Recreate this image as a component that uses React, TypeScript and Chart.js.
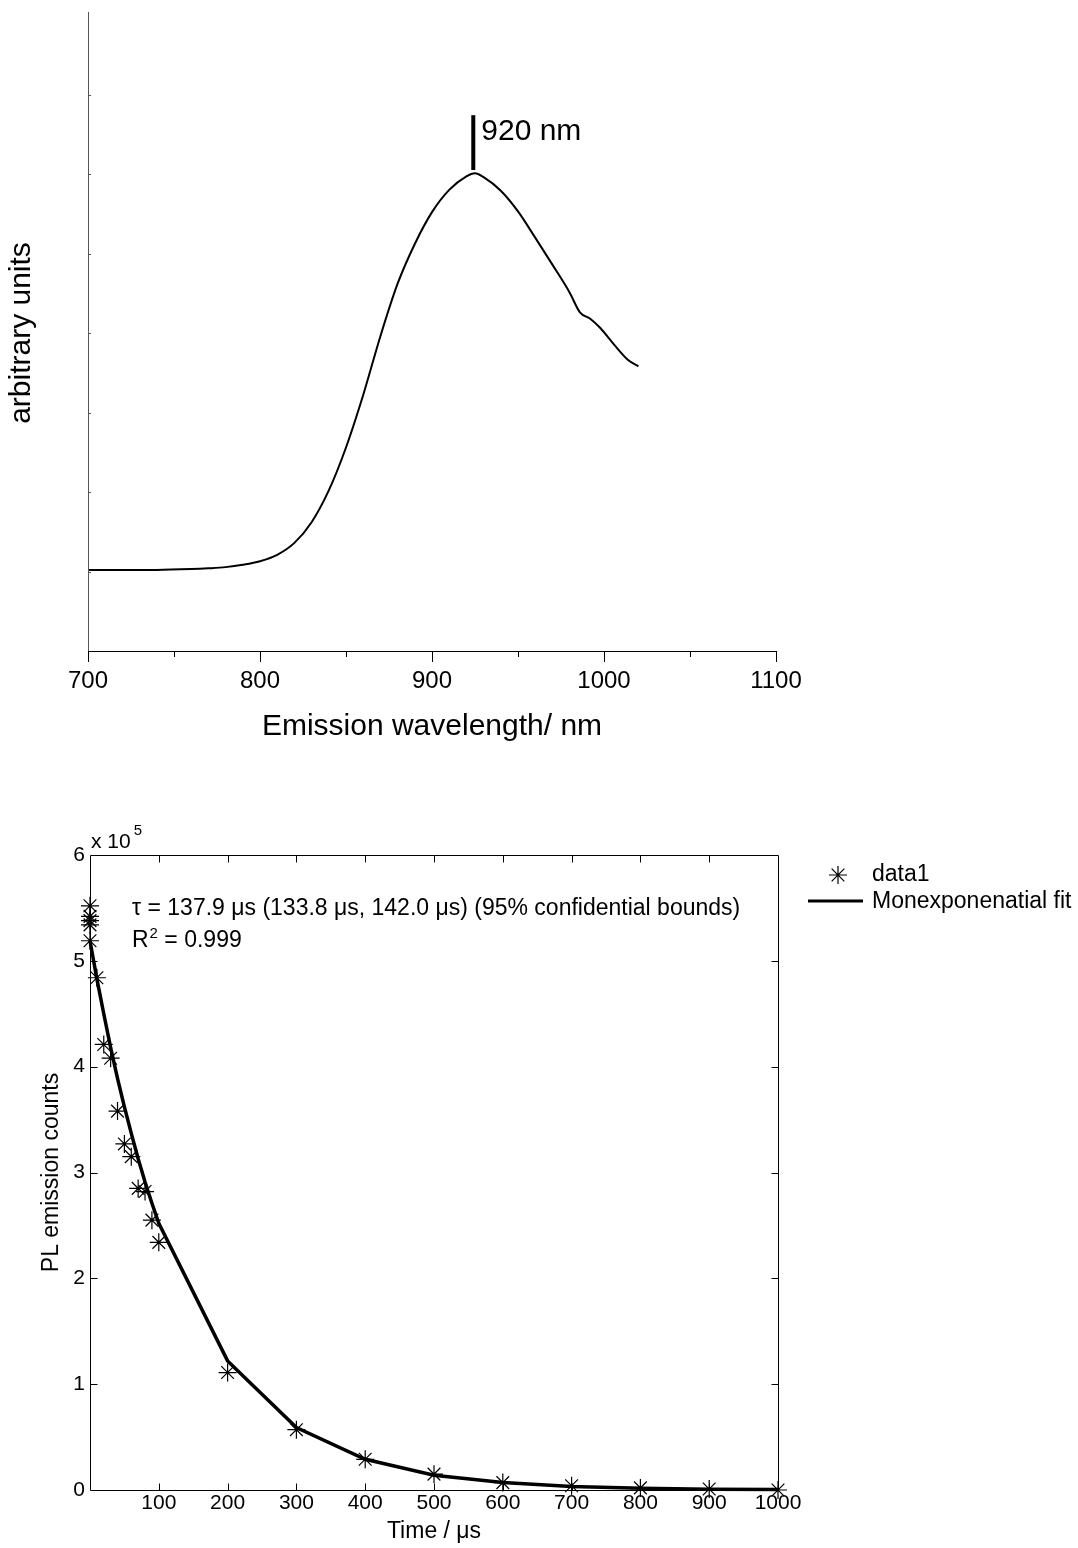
import React, { useEffect, useRef } from 'react';
import { Chart, registerables } from 'chart.js';

Chart.register(...registerables);

const FONT = '"Liberation Sans", Arial, Helvetica, sans-serif';

// ---------- Top chart: emission spectrum ----------
const WAVELENGTH_NM = [700, 720, 740, 760, 770, 780, 790, 800, 810, 820, 830, 840, 850, 860, 870, 880, 890, 900, 910, 920, 925, 930, 940, 950, 960, 970, 980, 986, 992, 998, 1006, 1014, 1020];
const INTENSITY_AU = [1.02, 1.02, 1.02, 1.03, 1.04, 1.055, 1.085, 1.13, 1.21, 1.36, 1.62, 2.02, 2.56, 3.22, 3.96, 4.62, 5.12, 5.52, 5.8, 5.97, 6.01, 5.96, 5.79, 5.53, 5.2, 4.86, 4.51, 4.26, 4.18, 4.06, 3.85, 3.66, 3.58];
const WAVELENGTH_LABELS = [700, 800, 900, 1000, 1100];
const PEAK_NM = 924;
const PEAK_BAR = [6.05, 6.74];
const PEAK_LABEL = '920 nm';

// ---------- Bottom chart: PL decay ----------
const TIME_US = [0, 0, 0, 0, 0, 10, 20, 30, 40, 50, 60, 70, 80, 90, 100, 200, 300, 400, 500, 600, 700, 800, 900, 1000];
const PL_COUNTS = [552000, 542000, 538000, 534000, 519000, 484000, 421000, 408000, 358000, 327000, 315000, 285000, 282000, 255000, 234000, 111000, 57000, 29000, 15000, 7000, 4000, 2000, 1000, 0];
const FIT_TIME_US = [0, 10, 20, 30, 40, 50, 60, 70, 80, 90, 100, 200, 300, 400, 500, 600, 700, 800, 900, 1000];
const FIT_COUNTS = [519000, 483000, 450000, 418000, 389000, 362000, 337000, 313000, 291000, 271000, 252000, 122000, 59000, 29000, 14000, 7000, 3300, 1600, 800, 400];
const TIME_LABELS = [100, 200, 300, 400, 500, 600, 700, 800, 900, 1000];
const COUNT_LABELS = [0, 1, 2, 3, 4, 5, 6];
const SERIES_NAMES = ['data1', 'Monexponenatial fit'];
const FIT_TEXT = 'τ = 137.9 μs (133.8 μs, 142.0 μs) (95% confidential bounds)';
const R2_VALUE = '0.999';

const topDecor = {
  id: 'topDecor',
  afterDraw(chart: any) {
    const { ctx, chartArea: a, scales } = chart;
    const xs = scales.x;
    const ys = scales.y;
    ctx.save();
    ctx.lineWidth = 1;
    ctx.strokeStyle = '#555';
    ctx.beginPath();
    ctx.moveTo(Math.round(a.left) + 0.5, a.top - 3);
    ctx.lineTo(Math.round(a.left) + 0.5, a.bottom);
    ys.ticks.forEach((t: any) => {
      if (t.value <= 0 || t.value >= 8) return;
      const py = Math.round(ys.getPixelForValue(t.value)) + 0.5;
      ctx.moveTo(a.left, py);
      ctx.lineTo(a.left + 3, py);
    });
    ctx.stroke();
    ctx.strokeStyle = '#000';
    ctx.beginPath();
    ctx.moveTo(a.left, Math.round(a.bottom) + 0.5);
    ctx.lineTo(a.right, Math.round(a.bottom) + 0.5);
    xs.ticks.forEach((t: any) => {
      const px = Math.round(xs.getPixelForValue(t.value)) + 0.5;
      const len = WAVELENGTH_LABELS.includes(t.value) ? 11 : 6;
      ctx.moveTo(px, a.bottom);
      ctx.lineTo(px, a.bottom + len);
    });
    ctx.stroke();
    ctx.fillStyle = '#000';
    ctx.font = `30px ${FONT}`;
    ctx.textBaseline = 'alphabetic';
    ctx.textAlign = 'left';
    ctx.fillText(PEAK_LABEL, xs.getPixelForValue(PEAK_NM) + 8, ys.getPixelForValue(PEAK_BAR[1]) + 25);
    ctx.restore();
  },
};

function drawStar(ctx: CanvasRenderingContext2D, x: number, y: number, r: number) {
  ctx.beginPath();
  for (let k = 0; k < 4; k++) {
    const ang = (k * Math.PI) / 4;
    const dx = Math.cos(ang) * r;
    const dy = Math.sin(ang) * r;
    ctx.moveTo(x - dx, y - dy);
    ctx.lineTo(x + dx, y + dy);
  }
  ctx.stroke();
}

const bottomDecor = {
  id: 'bottomDecor',
  afterDraw(chart: any) {
    const { ctx, chartArea: a, scales } = chart;
    const xs = scales.x;
    const ys = scales.y;
    const L = Math.round(a.left) + 0.5;
    const R = Math.round(a.right) + 0.5;
    const T = Math.round(a.top) + 0.5;
    const B = Math.round(a.bottom) + 0.5;
    ctx.save();
    ctx.strokeStyle = '#000';
    ctx.lineWidth = 1;
    ctx.beginPath();
    ctx.rect(L, T, R - L, B - T);
    const tl = 7;
    xs.ticks.forEach((t: any) => {
      if (t.value <= 0 || t.value >= 1000) return;
      const px = Math.round(xs.getPixelForValue(t.value)) + 0.5;
      ctx.moveTo(px, B);
      ctx.lineTo(px, B - tl);
      ctx.moveTo(px, T);
      ctx.lineTo(px, T + tl);
    });
    ys.ticks.forEach((t: any) => {
      if (t.value <= 0 || t.value >= 600000) return;
      const py = Math.round(ys.getPixelForValue(t.value)) + 0.5;
      ctx.moveTo(L, py);
      ctx.lineTo(L + tl, py);
      ctx.moveTo(R, py);
      ctx.lineTo(R - tl, py);
    });
    ctx.stroke();

    ctx.fillStyle = '#000';
    ctx.textAlign = 'left';
    ctx.textBaseline = 'alphabetic';
    ctx.font = `21px ${FONT}`;
    const base = 'x 10';
    ctx.fillText(base, a.left + 1, a.top - 7);
    const bw = ctx.measureText(base).width;
    ctx.font = `15px ${FONT}`;
    ctx.fillText('5', a.left + 1 + bw + 3, a.top - 20);

    const ax = a.left + 42;
    ctx.font = `23px ${FONT}`;
    ctx.fillText(FIT_TEXT, ax, a.top + 60);
    ctx.fillText('R', ax, a.top + 92);
    const rw = ctx.measureText('R').width;
    ctx.font = `15px ${FONT}`;
    ctx.fillText('2', ax + rw + 1, a.top + 83);
    const sw = ctx.measureText('2').width;
    ctx.font = `23px ${FONT}`;
    ctx.fillText(' = ' + R2_VALUE, ax + rw + 1 + sw, a.top + 92);

    const lx = a.right;
    ctx.lineWidth = 1.2;
    drawStar(ctx, lx + 60, a.top + 20, 9);
    ctx.lineWidth = 3;
    ctx.beginPath();
    ctx.moveTo(lx + 30, a.top + 46);
    ctx.lineTo(lx + 85, a.top + 46);
    ctx.stroke();
    ctx.font = `23px ${FONT}`;
    ctx.textBaseline = 'middle';
    ctx.fillText(SERIES_NAMES[0], lx + 94, a.top + 20);
    ctx.fillText(SERIES_NAMES[1], lx + 94, a.top + 46.5);
    ctx.restore();
  },
};

export default function App() {
  const topRef = useRef<HTMLCanvasElement | null>(null);
  const bottomRef = useRef<HTMLCanvasElement | null>(null);

  useEffect(() => {
    const topChart = new Chart(topRef.current as HTMLCanvasElement, {
      type: 'line',
      data: {
        datasets: [
          {
            data: WAVELENGTH_NM.map((x, i) => ({ x, y: INTENSITY_AU[i] })),
            borderColor: '#000',
            borderWidth: 2,
            pointRadius: 0,
            cubicInterpolationMode: 'monotone',
            fill: false,
          },
          {
            data: PEAK_BAR.map((y) => ({ x: PEAK_NM, y })),
            borderColor: '#000',
            borderWidth: 4,
            pointRadius: 0,
            fill: false,
          },
        ],
      },
      options: {
        responsive: false,
        animation: false,
        layout: { padding: { left: 0, top: 15, right: 302, bottom: 0 } },
        plugins: { legend: { display: false }, tooltip: { enabled: false } },
        scales: {
          x: {
            type: 'linear',
            min: 700,
            max: 1100,
            grid: { display: false, drawTicks: false },
            border: { display: false },
            ticks: {
              stepSize: 50,
              autoSkip: false,
              maxRotation: 0,
              padding: 16,
              color: '#000',
              font: { family: FONT, size: 24 },
              callback: (v: any) => (WAVELENGTH_LABELS.includes(Number(v)) ? String(v) : ''),
            },
            title: {
              display: true,
              text: 'Emission wavelength/ nm',
              color: '#000',
              font: { family: FONT, size: 30 },
              padding: { top: 0, bottom: 25 },
            },
            afterFit: (s: any) => {
              s.height = 119;
            },
          },
          y: {
            min: 0,
            max: 8,
            grid: { display: false, drawTicks: false },
            border: { display: false },
            ticks: { stepSize: 1, display: false },
            title: {
              display: true,
              text: 'arbitrary units',
              color: '#000',
              font: { family: FONT, size: 30 },
              padding: { top: 4, bottom: 0 },
            },
            afterFit: (s: any) => {
              s.width = 88;
            },
          },
        },
      } as any,
      plugins: [topDecor],
    });

    const bottomChart = new Chart(bottomRef.current as HTMLCanvasElement, {
      type: 'line',
      data: {
        datasets: [
          {
            label: SERIES_NAMES[0],
            data: TIME_US.map((x, i) => ({ x, y: PL_COUNTS[i] })),
            showLine: false,
            pointStyle: 'star',
            pointRadius: 9,
            borderColor: '#000',
            backgroundColor: 'transparent',
            borderWidth: 1.2,
          },
          {
            label: SERIES_NAMES[1],
            data: FIT_TIME_US.map((x, i) => ({ x, y: FIT_COUNTS[i] })),
            borderColor: '#000',
            borderWidth: 3.5,
            pointRadius: 0,
            tension: 0,
            fill: false,
          },
        ],
      },
      options: {
        responsive: false,
        animation: false,
        clip: false,
        layout: { padding: { left: 0, top: 85, right: 300, bottom: 0 } },
        plugins: { legend: { display: false }, tooltip: { enabled: false } },
        scales: {
          x: {
            type: 'linear',
            min: 0,
            max: 1000,
            grid: { display: false, drawTicks: false },
            border: { display: false },
            ticks: {
              stepSize: 100,
              autoSkip: false,
              maxRotation: 0,
              padding: 1,
              color: '#000',
              font: { family: FONT, size: 21 },
              callback: (v: any) => (TIME_LABELS.includes(Number(v)) ? String(v) : ''),
            },
            title: {
              display: true,
              text: 'Time / μs',
              color: '#000',
              font: { family: FONT, size: 23 },
              padding: { top: 0, bottom: 3 },
            },
            afterFit: (s: any) => {
              s.height = 58;
            },
          },
          y: {
            min: 0,
            max: 600000,
            grid: { display: false, drawTicks: false },
            border: { display: false },
            ticks: {
              stepSize: 100000,
              padding: 5,
              color: '#000',
              font: { family: FONT, size: 21 },
              callback: (v: any) => {
                const n = Number(v) / 100000;
                return COUNT_LABELS.includes(n) ? String(n) : '';
              },
            },
            title: {
              display: true,
              text: 'PL emission counts',
              color: '#000',
              font: { family: FONT, size: 23 },
              padding: { top: 38, bottom: 0 },
            },
            afterFit: (s: any) => {
              s.width = 90;
            },
          },
        },
      } as any,
      plugins: [bottomDecor],
    });

    return () => {
      topChart.destroy();
      bottomChart.destroy();
    };
  }, []);

  return (
    <div style={{ position: 'absolute', left: 0, top: 0, width: 1078, height: 1548, background: '#fff' }}>
      <canvas ref={topRef} width={1078} height={770} style={{ position: 'absolute', left: 0, top: 0 }} />
      <canvas ref={bottomRef} width={1078} height={778} style={{ position: 'absolute', left: 0, top: 770 }} />
    </div>
  );
}
